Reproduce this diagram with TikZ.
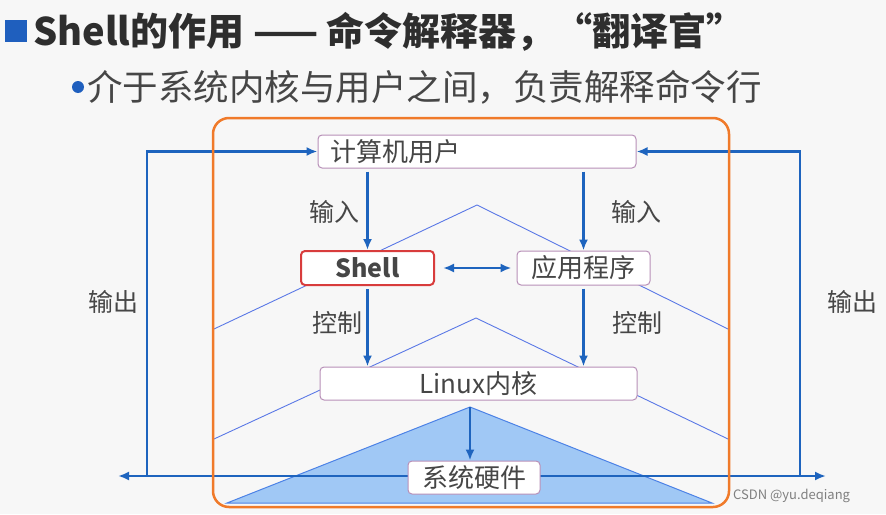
\documentclass[tikz,border=0pt]{standalone}
\usepackage{fontspec}
\setmainfont{Noto Sans CJK SC}
\usetikzlibrary{arrows.meta}
\definecolor{arrowblue}{RGB}{30,100,190}
\definecolor{ridgeblue}{RGB}{90,120,230}
\definecolor{hillfill}{RGB}{160,200,245}
\definecolor{hilledge}{RGB}{76,130,230}
\definecolor{frameorange}{RGB}{240,122,42}
\definecolor{boxedge}{RGB}{184,144,184}
\definecolor{shellred}{RGB}{216,60,60}
\definecolor{textgray}{RGB}{70,70,70}
\definecolor{titleblue}{RGB}{31,95,190}
\begin{document}
\begin{tikzpicture}[x=1pt,y=-1pt,
	box/.style={draw=boxedge,line width=1pt,rounded corners=4pt,fill=white,text=textgray,font=\fontsize{26}{30}\selectfont,inner sep=0pt},
	flow/.style={draw=arrowblue,line width=2.2pt,-{Latex[length=11pt,width=9pt]}},
	tag/.style={text=textgray,font=\fontsize{25}{30}\selectfont,inner sep=0pt},
	ridge/.style={draw=ridgeblue,line width=0.9pt}]
	\useasboundingbox (0,0) rectangle (886,514);
	\fill[black!3] (0,0) rectangle (886,514);
	\fill[titleblue] (5,20) rectangle (27,42);
	\node[anchor=west,inner sep=0pt,text=black!82,font=\bfseries\fontsize{38}{44}\selectfont] (title) at (33,32) {Shell的作用 —— 命令解释器，“翻译官”};
	\fill[titleblue] (78,87) circle (6pt);
	\node[anchor=west,inner sep=0pt,text=textgray,font=\fontsize{35.5}{40}\selectfont] (sub) at (87,87) {介于系统内核与用户之间，负责解释命令行};
	\draw[ridge] (214,329) -- (477,205) -- (728,329);
	\draw[ridge] (214,439) -- (476,318) -- (728,439);
	\coordinate (peak) at (470,407);
	\filldraw[fill=hillfill,draw=hilledge,line width=1pt] (227,503) -- (peak) -- (712,503) -- cycle;
	\coordinate (busL) at (118,476);
	\coordinate (busR) at (826,476);
	\coordinate (outL) at (147,476);
	\coordinate (outR) at (800,476);
	\draw[flow,{Latex[length=11pt,width=9pt]}-{Latex[length=11pt,width=9pt]}] (busL) -- (busR);
	\node[box,minimum width=318pt,minimum height=33pt,text width=294pt,align=left,inner xsep=12pt] (user) at (477,151.5) {计算机用户};
	\node[box,draw=shellred,line width=2pt,minimum width=133pt,minimum height=34pt,font=\bfseries\fontsize{25}{30}\selectfont] (shell) at (367.5,268) {Shell};
	\node[box,minimum width=133pt,minimum height=34pt] (app) at (583.5,268) {应用程序};
	\node[box,minimum width=317pt,minimum height=33pt] (kernel) at (478.5,383.5) {Linux内核};
	\node[box,minimum width=132pt,minimum height=33pt] (hw) at (474,477.5) {系统硬件};
	\draw[flow] ([yshift=-3pt]shell.north |- user.south) -- (shell.north);
	\draw[flow] ([yshift=-3pt]app.north |- user.south) -- (app.north);
	\draw[flow] ([yshift=-3pt]shell.south) -- (shell.south |- kernel.north);
	\draw[flow] ([yshift=-3pt]app.south) -- (app.south |- kernel.north);
	\draw[flow,{Latex[length=11pt,width=9pt]}-{Latex[length=11pt,width=9pt]}] ([xshift=8pt]shell.east) -- ([xshift=-5pt]app.west);
	\draw[flow] (peak) -- (peak |- hw.north);
	\draw[flow] (outL) |- (user.west);
	\draw[flow] (outR) |- (user.east);
	\node[tag] (inL) at (334,212) {输入};
	\node[tag] (inR) at (636,212) {输入};
	\node[tag] (ctlL) at (337,323) {控制};
	\node[tag] (ctlR) at (637,323) {控制};
	\node[tag] (outLt) at (113,302) {输出};
	\node[tag] (outRt) at (852,302) {输出};
	\draw[frameorange,line width=2.5pt,rounded corners=16pt] (213,118) rectangle (729,507);
	\node[anchor=west,inner sep=0pt,text=black!50,font=\fontsize{13}{15}\selectfont] (mark) at (733,496) {CSDN @yu.deqiang};
\end{tikzpicture}
\end{document}
